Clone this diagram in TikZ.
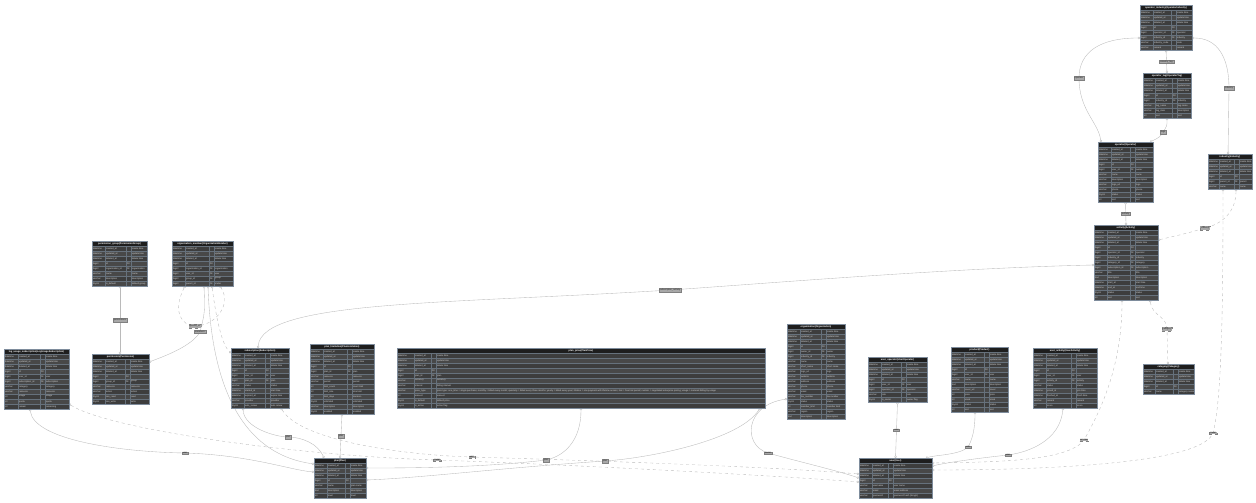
\documentclass[tikz,border=0pt]{standalone}
\usepackage{fontspec}
\setmainfont{Liberation Sans}
\usetikzlibrary{arrows.meta}
\pgfdeclarelayer{back}
\pgfdeclarelayer{bg}
\pgfsetlayers{back,bg,main}
\definecolor{hdr}{HTML}{1E1E1E}
\definecolor{rowA}{HTML}{3D3D3D}
\definecolor{rowB}{HTML}{484848}
\definecolor{sepc}{HTML}{66717C}
\definecolor{bordc}{HTML}{7E8C9C}
\definecolor{txtc}{HTML}{D6D6D6}
\definecolor{edgec}{HTML}{BABABA}
\definecolor{lblf}{HTML}{A8A8A8}
\tikzset{
 cellt/.style={anchor=west, inner sep=0pt, text=txtc, font=\fontsize{2.3}{2.7}\selectfont},
 ttl/.style={inner sep=0pt, text=white, font=\fontsize{2.4}{2.8}\selectfont\bfseries},
 rel/.style={draw=edgec, line width=0.35pt, >={Circle[open,length=2.4pt,width=2.4pt]}, <->},
 lbl/.style={fill=lblf, draw=gray, line width=0.15pt, inner xsep=0.8pt, inner ysep=0.6pt, text=black!85, font=\fontsize{2.3}{2.7}\selectfont},
}
\newcommand{\ertable}[9]{%
 \pgfmathsetmacro{\erH}{5*(#5+1)}%
 \node[inner sep=0pt, outer sep=0pt, fill=rowA, minimum width=#4pt, minimum height=\erH pt, anchor=north west] (#1) at (#2,#3) {};%
 \fill[hdr] (#2,#3) rectangle ++(#4,5);%
 \node[ttl] at ({#2+#4/2},{#3+2.6}) {#6};%
 \foreach \ta/\na/\ka/\ca [count=\i] in {datetime/created\_at/{}/create time, datetime/updated\_at/{}/update time, datetime/deleted\_at/{}/delete time, bigint/id/PK/{}, #9} {%
   \pgfmathsetmacro{\ry}{#3+5*\i}%
   \ifodd\i\relax \def\rc{rowA}\else \def\rc{rowB}\fi
   \fill[fill=\rc] (#2,\ry) rectangle ++(#4,5);%
   \draw[sepc, line width=0.25pt] (#2,\ry) -- ++(#4,0);%
   \node[cellt] at ({#2+0.8},{\ry+2.6}) {\ta};%
   \node[cellt] at ({#2+#7+0.8},{\ry+2.6}) {\na};%
   \node[cellt] at ({#2+#8+0.6},{\ry+2.6}) {\ka};%
   \node[cellt] at ({#2+#8+5.8},{\ry+2.6}) {\ca};%
 }%
 \draw[sepc, line width=0.25pt] ({#2+#7},{#3+5}) -- ++(0,{5*#5}) ({#2+#8},{#3+5}) -- ++(0,{5*#5}) ({#2+#8+5},{#3+5}) -- ++(0,{5*#5});%
 \draw[bordc, line width=0.4pt] (#1.north west) rectangle (#1.south east);%
}
\begin{document}
\begin{tikzpicture}[x=1pt,y=-1pt]
\begin{pgfonlayer}{back}
\fill[white] (0,0) rectangle (1256,503);
\end{pgfonlayer}
\useasboundingbox (0,0) rectangle (1256,503);

\ertable{T1}{1140}{5}{52}{8}{operator\_industry(OperatorIndustry)}{13}{31}{bigint/operator\_id/FK/operator, bigint/industry\_id/FK/industry, varchar/industry\_code/{}/code, varchar/remark/{}/remark}
\ertable{T2}{1143}{73}{48}{8}{operator\_tag(OperatorTag)}{12}{29}{bigint/industry\_id/FK/industry, varchar/tag\_name/{}/tag name, varchar/tag\_desc/{}/description, int/sort/{}/sort}
\ertable{T3}{1098}{142}{55}{11}{operator(Operator)}{13}{32}{bigint/user\_id/FK/owner, varchar/name/{}/name, varchar/description/{}/description, varchar/logo\_url/{}/logo, varchar/phone/{}/phone, tinyint/status/{}/status, int/sort/{}/sort}
\ertable{T4}{1208}{154}{44}{6}{industry(Industry)}{11}{26}{bigint/parent\_id/FK/parent, varchar/name/{}/name}
\ertable{T5}{1094}{225}{64}{14}{activity(Activity)}{13}{36}{bigint/operator\_id/FK/operator, bigint/industry\_id/FK/industry, bigint/category\_id/FK/category, bigint/subscription\_id/FK/subscription, varchar/title/{}/title, text/description/{}/description, datetime/start\_at/{}/start time, datetime/end\_at/{}/end time, tinyint/status/{}/status, int/sort/{}/sort}
\ertable{T6}{1143}{364}{51}{5}{category(Category)}{12}{30}{varchar/name/{}/category name}
\ertable{T7}{92}{241}{55}{8}{permission\_group(PermissionGroup)}{13}{34}{bigint/organization\_id/FK/organization, varchar/name/{}/name, varchar/description/{}/description, tinyint/is\_default/{}/default group}
\ertable{T8}{172}{241}{61}{8}{organization\_member(OrganizationMember)}{13}{37}{bigint/organization\_id/FK/organization, bigint/user\_id/FK/user, bigint/group\_id/FK/group, bigint/parent\_id/FK/inviter}
\ertable{T9}{4}{349}{65}{11}{log\_usage\_subscription(LogUsageSubscription)}{14}{36}{bigint/user\_id/FK/user, bigint/subscription\_id/FK/subscription, varchar/category/{}/category, varchar/resource/{}/resource, int/usage/{}/usage, int/quota/{}/quota, int/remain/{}/remaining}
\ertable{T10}{92}{354}{57}{9}{permission(Permission)}{13}{33}{bigint/group\_id/FK/group, varchar/resource/{}/resource, varchar/action/{}/action, tinyint/can\_read/{}/read, tinyint/can\_write/{}/write}
\ertable{T11}{231}{348}{58}{11}{subscription(Subscription)}{13}{34}{bigint/user\_id/FK/user, bigint/plan\_id/FK/plan, varchar/status/{}/status, datetime/started\_at/{}/start time, datetime/expired\_at/{}/expire time, varchar/provider/{}/provider, tinyint/auto\_renew/{}/auto renew}
\ertable{T12}{310}{344}{64}{13}{plan\_limitation(PlanLimitation)}{13}{37}{bigint/plan\_id/FK/plan, varchar/resource/{}/resource, varchar/period/{}/period, int/limit\_count/{}/count limit, int/limit\_size/{}/size limit, int/limit\_days/{}/duration, tinyint/unlimited/{}/unlimited, varchar/description/{}/description, tinyint/enabled/{}/enabled}
\ertable{T13}{397}{348}{368}{11}{plan\_price(PlanPrice)}{17}{34}{bigint/plan\_id/FK/plan, varchar/currency/{}/currency, varchar/interval/{}/billing interval, varchar/price\_type/{}/price type: one\_time = single purchase; monthly = billed every month; quarterly = billed every three months; yearly = billed every year; lifetime = one payment with lifetime access; trial = free trial period; custom = negotiated enterprise pricing; usage = metered billing by usage, int/amount/{}/amount, tinyint/is\_default/{}/default price, tinyint/is\_active/{}/active flag}
\ertable{T14}{787}{324}{58}{18}{organization(Organization)}{13}{34}{bigint/owner\_id/FK/owner, bigint/industry\_id/FK/industry, varchar/name/{}/name, varchar/short\_name/{}/short name, varchar/logo\_url/{}/logo, varchar/website/{}/website, varchar/address/{}/address, varchar/phone/{}/phone, varchar/email/{}/email, varchar/tax\_number/{}/tax number, tinyint/status/{}/status, int/member\_limit/{}/member limit, varchar/region/{}/region, text/description/{}/description}
\ertable{T15}{868}{357}{59}{8}{user\_operator(UserOperator)}{13}{33}{bigint/user\_id/FK/user, bigint/operator\_id/FK/operator, varchar/role/{}/role, tinyint/is\_owner/{}/owner flag}
\ertable{T16}{951}{347}{57}{12}{product(Product)}{13}{33}{bigint/user\_id/FK/user, varchar/name/{}/name, text/description/{}/description, varchar/cover\_url/{}/cover, int/price/{}/price, int/stock/{}/stock, tinyint/status/{}/status, int/sort/{}/sort}
\ertable{T17}{1033}{348}{64}{11}{user\_activity(UserActivity)}{13}{38}{bigint/user\_id/FK/user, bigint/activity\_id/FK/activity, varchar/status/{}/status, datetime/joined\_at/{}/join time, datetime/finished\_at/{}/finish time, varchar/remark/{}/remark, int/score/{}/score}
\ertable{T18}{314}{458}{52}{7}{plan(Plan)}{13}{31}{varchar/name/{}/plan name, text/description/{}/description, int/level/{}/level}
\ertable{T19}{859}{458}{73}{7}{user(User)}{13}{29}{varchar/username/{}/user name, varchar/email/{}/email address, varchar/password/{}/password hash (bcrypt)}

\begin{pgfonlayer}{bg}
\draw[rel] (T1.south) -- node[lbl]{industry\_tag} (T2.north);
\draw[rel] (T2.south) .. controls (1167,126) .. (1163,132) node[lbl]{tags} .. controls (1160,137) .. ([xshift=-3pt]T3.north east);
\draw[rel] ([yshift=12pt]T1.south west) .. controls (1100,38) and (1079,52) .. (1079,78) node[lbl]{operator} .. controls (1079,110) and (1098,122) .. ([xshift=3pt]T3.north west);
\draw[rel] ([yshift=12pt]T1.south east) .. controls (1218,38) and (1229,58) .. (1229,88) node[lbl]{industry} .. controls (1229,120) .. ([xshift=20pt]T4.north west);
\draw[rel] (T3.south) -- node[lbl]{activity} (T5.north);
\draw[rel,dashed] ([xshift=-16pt]T4.south east) .. controls (1236,212) and (1222,224) .. (1205,228) node[lbl]{industry} .. controls (1188,233) .. ([yshift=-15pt]T5.north east);
\draw[rel] ([yshift=-40pt]T5.north west) .. controls (950,268) and (760,284) .. (670,290) node[lbl]{subscription\_activity} .. controls (450,304) and (262,300) .. ([xshift=27pt]T11.north west);
\draw[rel,dashed] ([xshift=-8pt]T5.south east) .. controls (1152,316) and (1167,316) .. (1167,329) node[lbl]{category} .. controls (1167,345) .. ([xshift=25pt]T6.north west);
\draw[rel,dashed] ([xshift=28pt]T5.south west) .. controls (1122,370) and (1098,415) .. (1084,440) node[lbl]{creator} .. controls (1068,462) and (990,462) .. ([yshift=-5pt]T19.north east);
\draw[rel,dashed] ([xshift=-29pt]T4.south east) .. controls (1223,300) and (1222,400) .. (1213,433) node[lbl]{owner} .. controls (1200,468) and (1000,470) .. ([yshift=-12pt]T19.north east);
\draw[rel] ([xshift=28pt]T7.south west) -- node[lbl]{permissions} ([xshift=28pt]T10.north west);
\draw[rel,dashed] ([xshift=13pt]T8.south west) .. controls (172,312) and (182,326) .. (195,326) node[lbl]{parent\_id} .. controls (215,326) and (232,305) .. ([xshift=48pt]T8.south west);
\draw[rel] ([xshift=32pt]T8.south west) .. controls (205,312) .. (200,332) node[lbl]{members} .. controls (192,346) and (165,356) .. ([yshift=-8pt]T10.north east);
\draw[rel,dashed] ([xshift=40pt]T8.south west) .. controls (216,318) and (222,345) .. ([yshift=-5pt]T11.north west);
\draw[rel] ([xshift=36pt]T8.south west) .. controls (212,400) and (250,455) .. ([yshift=-6pt]T18.north west);
\draw[rel] ([xshift=26pt]T9.south west) .. controls (34,440) and (120,452) .. (185,453) node[lbl]{user} .. controls (250,455) and (290,470) .. ([yshift=-14pt]T18.north west);
\draw[rel,dashed] ([yshift=5pt]T9.south east) .. controls (110,430) and (300,456) .. (437,460) node[lbl]{owner} .. controls (600,466) and (780,476) .. ([yshift=-24pt]T19.north west);
\draw[rel] ([xshift=12pt]T11.south west) .. controls (244,428) and (276,437) .. (288,437) node[lbl]{plan} .. controls (302,437) and (318,444) .. ([xshift=10pt]T18.north west);
\draw[rel] (T12.south) -- node[lbl]{plan} (T18.north);
\draw[rel,dashed] ([xshift=-8pt]T11.south east) .. controls (300,440) and (400,455) .. (472,457) node[lbl]{user} .. controls (640,462) and (790,468) .. ([yshift=-16pt]T19.north west);
\draw[rel] (T13.south) .. controls (581,440) and (565,456) .. (546,460) node[lbl]{plan} .. controls (480,468) and (400,468) .. ([yshift=-10pt]T18.north east);
\draw[rel] ([xshift=-5pt]T13.south east) .. controls (740,440) and (650,458) .. (605,461) node[lbl]{plan} .. controls (500,468) and (420,478) .. ([yshift=-22pt]T18.north east);
\draw[rel] ([yshift=20pt]T14.south west) .. controls (745,405) and (742,445) .. (768,453) node[lbl]{owner} .. controls (800,462) and (835,470) .. ([yshift=-20pt]T19.north west);
\draw[rel] (T15.south) -- node[lbl]{user} (T19.north);
\draw[rel] ([xshift=24pt]T16.south west) .. controls (975,430) and (972,440) .. (968,447) node[lbl]{user} .. controls (960,455) and (935,455) .. ([xshift=-6pt]T19.north east);
\draw[rel] ([xshift=30pt]T17.south west) .. controls (1060,440) and (1030,452) .. (1008,455) node[lbl]{user} .. controls (980,458) and (950,462) .. ([yshift=-8pt]T19.north east);
\end{pgfonlayer}
\end{tikzpicture}
\end{document}
